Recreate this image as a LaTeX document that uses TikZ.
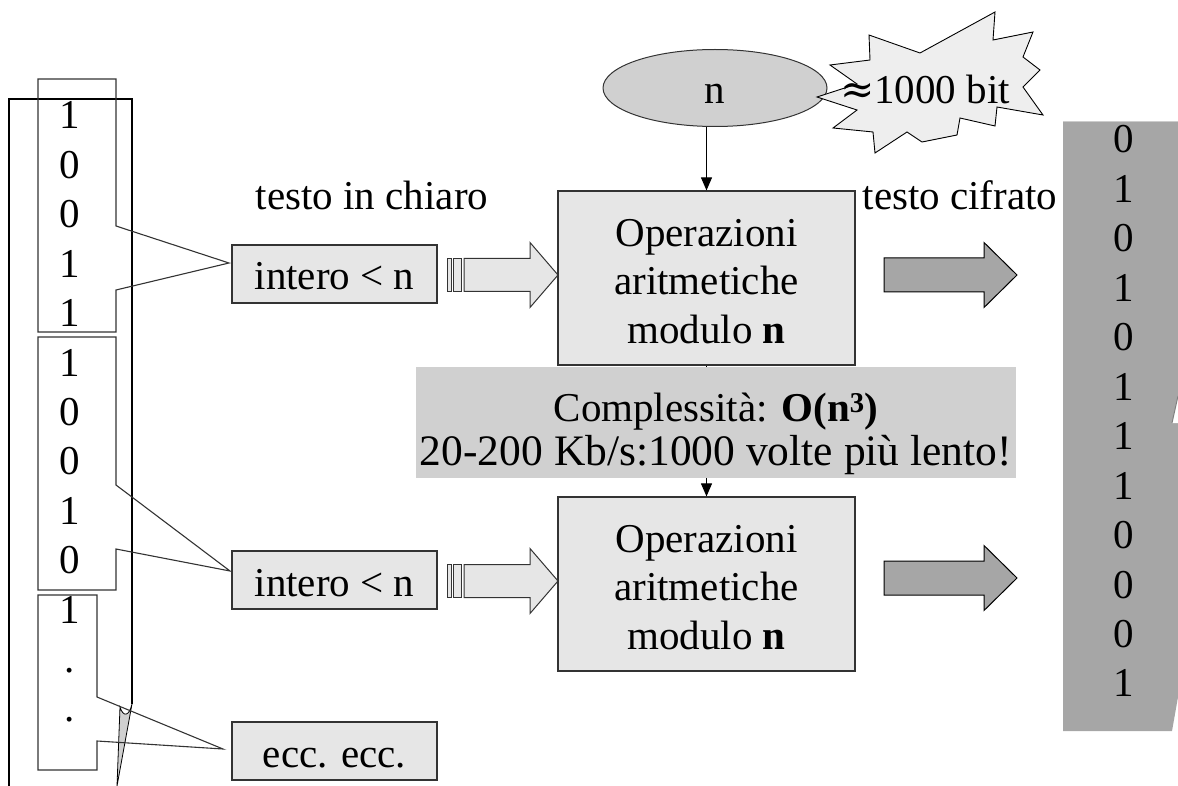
\documentclass[tikz,border=0pt]{standalone}
\usepackage{fontspec}
\setmainfont{Liberation Serif}
\newfontfamily\approxfont{DejaVu Serif}
\usetikzlibrary{arrows.meta,shapes.geometric}
\definecolor{boxfill}{HTML}{E6E6E6}
\definecolor{midfill}{HTML}{D0D0D0}
\definecolor{darkfill}{HTML}{A6A6A6}
\definecolor{burstfill}{HTML}{EEEEEE}
\definecolor{edge}{HTML}{333333}
\begin{document}
\begin{tikzpicture}[x=1pt,y=-1pt,
  every node/.style={font=\fontsize{41}{49.4}\selectfont, inner sep=0pt},
  keybox/.style={draw=edge, line width=1.2pt, fill=boxfill, minimum width=205pt,
    minimum height=58pt, text height=32pt, text depth=0pt},
  opbox/.style={draw=edge, line width=1.2pt, fill=boxfill, minimum width=297pt,
    minimum height=174pt},
  optext/.style={anchor=north, align=center, font=\fontsize{41}{48.5}\selectfont},
  callout/.style={draw=edge, line width=1.1pt},
  feed/.style={line width=1pt, -{Triangle[width=11pt,length=13pt]}},
  bit/.style={anchor=base},
  stripearrow/.pic={
    \filldraw[draw=edge, line width=1pt, fill=boxfill] (0,-16.5) rectangle (4.5,16.5);
    \filldraw[draw=edge, line width=1pt, fill=boxfill] (6,-16.5) rectangle (14,16.5);
    \filldraw[draw=edge, line width=1pt, fill=boxfill]
      (17,-16.5) -- (83,-16.5) -- (83,-32.5) -- (111,0) -- (83,32.5) -- (83,16.5)
      -- (17,16.5) -- cycle;
  },
  darkarrow/.pic={
    \filldraw[draw=black, line width=1pt, fill=darkfill]
      (0,-17) -- (100,-17) -- (100,-32.5) -- (133,0) -- (100,32.5) -- (100,17)
      -- (0,17) -- cycle;
  }
]
\useasboundingbox (0,0) rectangle (1178,786);

% ---- left column: the plaintext bit stream ----
\draw[line width=2pt] (9,786) -- (9,99) -- (132,99) -- (132,704);
\filldraw[fill=midfill, draw=black, line width=0.8pt]
  (120,707) -- (117,786) -- (132,704) .. controls (129,717) and (123,717) .. cycle;

\foreach \d [count=\i] in {1,0,0,1,1,1,0,0,1,0,1,.,.}
  \node[bit] (l\i) at (70,{129+(\i-1)*49.4}) {\d};

% blocks cut from the stream, each pointing at its integer
\node[keybox] (int1) at (334.5,274) {intero < n};
\node[keybox] (int2) at (334.5,580) {intero < n};
\node[keybox] (ecc) at (334.5,751) {ecc. ecc.};

\coordinate (t1) at (229,263);
\coordinate (t2) at (230,571);
\coordinate (t3) at (223,749);
\path[callout] (38,79) -- (116,79) -- (116,226) -- (t1) -- (116,290) -- (116,332)
  -- (38,332) -- cycle;
\path[callout] (38,337) -- (116,337) -- (116,485) -- (t2) -- (116,549) -- (116,590)
  -- (38,590) -- cycle;
\path[callout] (38,595) -- (97,595) -- (97,697) -- (t3) -- (97,741) -- (97,770)
  -- (38,770) -- cycle;

% ---- labels ----
\node[anchor=base] (plain) at (372,210) {testo in chiaro};
\node[anchor=base] (cipher) at (960,210) {testo cifrato};

% ---- key n ----
\node[ellipse, draw=edge, fill=midfill, line width=1pt, minimum width=224pt,
  minimum height=77pt, text height=32pt, text depth=0pt] (n) at (715,88) {n};
\filldraw[fill=burstfill, draw=black, line width=0.9pt]
  (817,97) -- (857,84) -- (830,65) -- (870,60) -- (869,35) -- (920,53) -- (995,12)
  -- (993,40) -- (1033,32) -- (1023,57) -- (1040,70) -- (1023,87) -- (1043,115)
  -- (997,107) -- (995,126) -- (960,118) -- (957,135) -- (922,142) -- (907,132)
  -- (875,153) -- (873,132) -- (833,128) -- (857,110) -- cycle;
\node[anchor=base] (size) at (925,104) {{\approxfont ≈}1000 bit};

% ---- modular arithmetic blocks ----
\node[opbox] (op1) at (706.5,278) {};
\node[opbox] (op2) at (706.5,584) {};
\node[optext] (op1txt) at (706.5,217) {\rule{0pt}{29pt}Operazioni\\aritmetiche\\modulo \textbf{n}};
\node[optext] (op2txt) at (706.5,523) {\rule{0pt}{29pt}Operazioni\\aritmetiche\\modulo \textbf{n}};
\draw[feed] (op1.north |- n.south) -- (op1.north);
\draw[feed] (op1.south) -- (op2.north);

\node[fill=midfill, minimum width=600pt, minimum height=111pt] (cost) at (716,422.5) {};
\node[anchor=north, align=center, font=\fontsize{41}{44}\selectfont] (costtxt) at (716,381)
  {\rule{0pt}{40pt}Complessità: \textbf{O(n\textsuperscript{3})}\\
   {\fontsize{43.5}{44}\selectfont 20-200 Kb/s:1000 volte più lento!}};

% ---- block arrows ----
\pic at (447,275) {stripearrow};
\pic at (447,581) {stripearrow};
\pic at (884,275) {darkarrow};
\pic at (884,578) {darkarrow};

% ---- right column: the ciphertext stream ----
\fill[darkfill] (1063,122) -- (1178,122) -- (1178,697) -- (1172,731) -- (1063,731) -- cycle;
\draw[line width=1pt, color=black!20] (1063,122) -- (1178,122);
\fill[white] (1172,423) -- (1178,396) -- (1178,423) -- cycle;
\draw[line width=1pt, color=black!50] (1172,423) -- (1178,396);
\foreach \d [count=\i] in {0,1,0,1,0,1,1,1,0,0,0,1}
  \node[bit] (r\i) at (1124,{153+(\i-1)*49.45}) {\d};
\end{tikzpicture}
\end{document}
